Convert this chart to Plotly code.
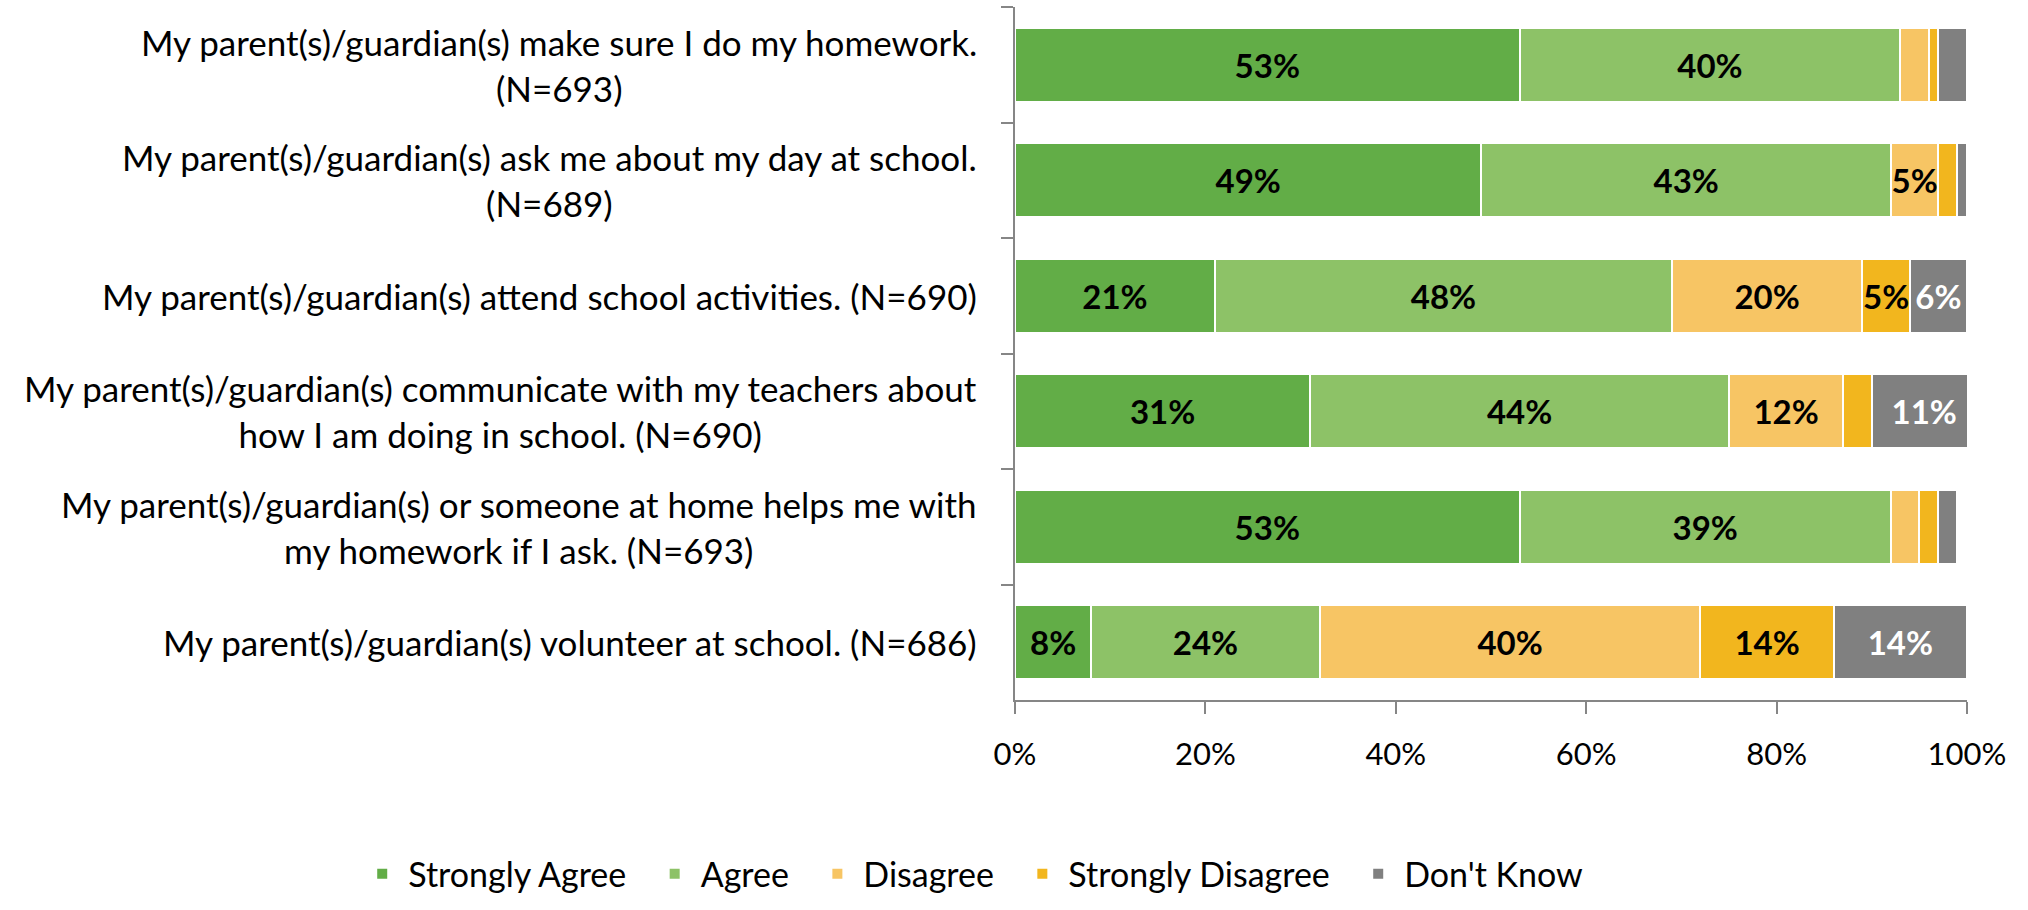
import plotly.graph_objects as go

# survey statements, top to bottom
items = [
    "My parent(s)/guardian(s) make sure I do my homework.<br>(N=693)",
    "My parent(s)/guardian(s) ask me about my day at school.<br>(N=689)",
    "My parent(s)/guardian(s) attend school activities. (N=690)",
    "My parent(s)/guardian(s) communicate with my teachers about<br>how I am doing in school. (N=690)",
    "My parent(s)/guardian(s) or someone at home helps me with<br>my homework if I ask. (N=693)",
    "My parent(s)/guardian(s) volunteer at school. (N=686)",
]

strongly_agree = [53, 49, 21, 31, 53, 8]
agree = [40, 43, 48, 44, 39, 24]
disagree = [3, 5, 20, 12, 3, 40]
strongly_disagree = [1, 2, 5, 3, 2, 14]
dont_know = [3, 1, 6, 11, 2, 14]

series = [
    ("Strongly Agree", strongly_agree, "#62AD47", "black"),
    ("Agree", agree, "#8DC267", "black"),
    ("Disagree", disagree, "#F7C564", "black"),
    ("Strongly Disagree", strongly_disagree, "#F2B61E", "black"),
    ("Don't Know", dont_know, "#808080", "white"),
]

FONT = "Lato"
PAD = "\u00a0" * 2  # extra room between legend entries

fig = go.Figure()
for name, vals, color, tcolor in series:
    fig.add_trace(go.Bar(
        y=items,
        x=[v / 100 for v in vals],
        name=name + PAD,
        orientation="h",
        marker=dict(color=color, line=dict(color="white", width=2)),
        text=[f"{v}%" if v >= 5 else "" for v in vals],
        textposition="inside",
        insidetextanchor="middle",
        textangle=0,
        textfont=dict(family=FONT, size=33, color=tcolor, weight="bold"),
        hovertemplate=name + ": %{x:.0%}<extra></extra>",
    ))

# category labels: centred lines, right aligned block
for it in items:
    fig.add_annotation(
        x=0, xref="paper", y=it, yref="y",
        text=it, showarrow=False, xanchor="right", align="center",
        xshift=-36, font=dict(family=FONT, size=35, color="black"),
    )

fig.update_layout(
    barmode="stack",
    bargap=0.36,
    width=2028, height=910,
    margin=dict(l=1015, r=61, t=7, b=205),
    plot_bgcolor="white", paper_bgcolor="white",
    font=dict(family=FONT, size=31, color="black"),
    uniformtext=dict(minsize=33, mode="show"),
    legend=dict(
        orientation="h", x=-0.692, xanchor="left", y=-0.293, yanchor="bottom",
        font=dict(family=FONT, size=34), traceorder="normal", itemwidth=42,
    ),
    xaxis=dict(
        range=[0, 1], tickformat=".0%", dtick=0.2,
        showgrid=False, zeroline=False,
        showline=True, linecolor="#868686", linewidth=1.5,
        ticks="outside", ticklen=12, tickcolor="#868686", tickwidth=1.5,
        tickfont=dict(family=FONT, size=31), ticklabelstandoff=14,
    ),
    yaxis=dict(
        autorange="reversed", showticklabels=False, showgrid=False,
        showline=True, linecolor="#868686", linewidth=1.5,
        ticks="outside", ticklen=12, tickcolor="#868686", tickwidth=1.5,
        tickson="boundaries",
    ),
)

fig.write_html("out.html", config={"displayModeBar": False},
               post_script="document.body.style.margin='0';")
